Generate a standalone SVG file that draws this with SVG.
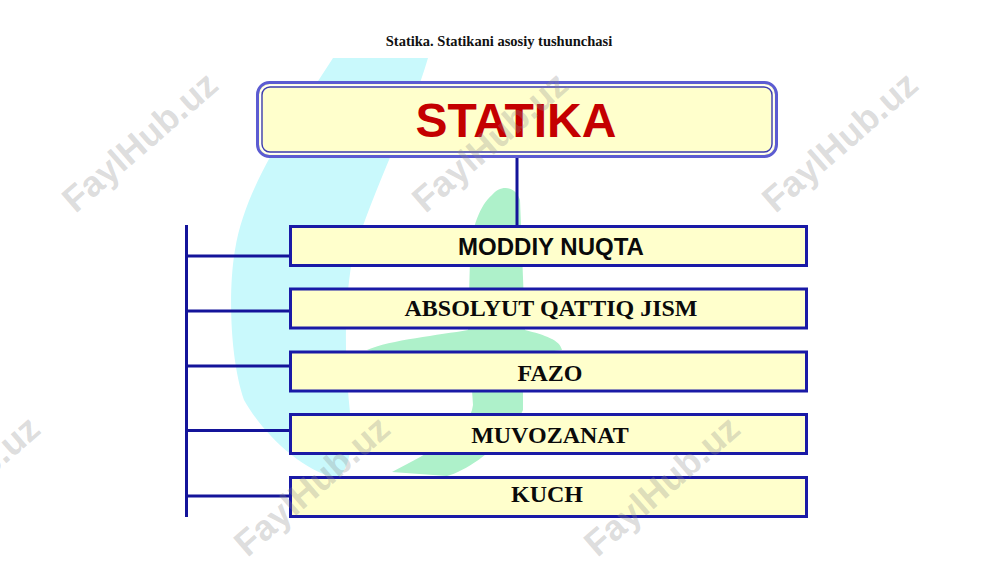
<svg xmlns="http://www.w3.org/2000/svg" width="1000" height="562" viewBox="0 0 1000 562">
<style>
.bg{fill:#ffffff}
.cyan{fill:#c9f9fc}
.green{fill:#aef1ca}
.box{fill:#ffffcc;stroke:#1a1aa6;stroke-width:3}
.lbl{font-family:"Liberation Serif","Times New Roman",serif;font-weight:bold;font-size:24px;fill:#0a0a0a;text-anchor:middle}
.lbls{font-family:"Liberation Sans",Arial,sans-serif;font-weight:bold;font-size:24px;fill:#0a0a0a;text-anchor:middle}
.conn{stroke:#14149a;stroke-width:3;fill:none}
.wm{font-family:"Liberation Sans",Arial,sans-serif;font-weight:bold;font-size:36px;fill:#8c8c8c;fill-opacity:0.3;text-anchor:middle}
</style>
<rect class="bg" x="0" y="0" width="1000" height="562"/>
<g id="background-logo">
<path class="cyan" d="M333,58 L428,58 C410,120 372,190 352,260 C342,320 346,380 352,430 C351,458 346,474 336,478 C300,470 262,432 244,400 C230,360 228,290 235,250 C246,180 300,110 333,58 Z"/>
<path class="green" d="M492,195 C500,185 515,185 520,200 L525,330 C545,335 560,340 562,350 C545,352 530,355 523,360 L523,410 C510,440 470,470 447,476 L392,472 C430,452 470,432 473,405 L470,360 C440,356 395,355 367,350 C390,340 440,335 468,330 L470,260 C470,230 480,205 492,195 Z"/>
</g>
<text x="499" y="46" font-family="'Liberation Serif','Times New Roman',serif" font-weight="bold" font-size="14.5" text-anchor="middle" fill="#111111">Statika. Statikani asosiy tushunchasi</text>
<g id="connectors">
<line class="conn" x1="517" y1="156" x2="517" y2="226"/>
<line class="conn" x1="186.5" y1="225" x2="186.5" y2="517"/>
<line class="conn" x1="186" y1="256" x2="290" y2="256"/>
<line class="conn" x1="186" y1="311" x2="290" y2="311"/>
<line class="conn" x1="186" y1="366" x2="290" y2="366"/>
<line class="conn" x1="186" y1="430.5" x2="290" y2="430.5"/>
<line class="conn" x1="186" y1="496" x2="290" y2="496"/>
</g>
<g id="node-statika">
<rect x="257.5" y="82.5" width="519" height="74" rx="12" fill="#ffffcc" stroke="#5c5cd2" stroke-width="3"/>
<rect x="260.5" y="85.5" width="513" height="68" rx="9.5" fill="none" stroke="#ffffff" stroke-width="1.4"/>
<rect x="262" y="87" width="510" height="65" rx="8" fill="none" stroke="#3c3cb2" stroke-width="1.4"/>
<text x="516" y="137" font-family="'Liberation Sans',Arial,sans-serif" font-weight="bold" font-size="48" text-anchor="middle" fill="#c40000">STATIKA</text>
</g>
<g id="node-moddiy-nuqta">
<rect class="box" x="290.5" y="226.5" width="516" height="39"/>
<text class="lbls" x="551" y="255">MODDIY NUQTA</text>
</g>
<g id="node-absolyut-qattiq-jism">
<rect class="box" x="290.5" y="289" width="516" height="39"/>
<text class="lbl" x="551" y="315.5">ABSOLYUT QATTIQ JISM</text>
</g>
<g id="node-fazo">
<rect class="box" x="290.5" y="352" width="516" height="39"/>
<text class="lbl" x="550" y="381">FAZO</text>
</g>
<g id="node-muvozanat">
<rect class="box" x="290.5" y="414.5" width="516" height="39"/>
<text class="lbl" x="550" y="442.5">MUVOZANAT</text>
</g>
<g id="node-kuch">
<rect class="box" x="290.5" y="477.5" width="516" height="39"/>
<text class="lbl" x="547" y="501.5">KUCH</text>
</g>
<g id="watermarks">
<text class="wm" transform="translate(140,142) rotate(-41)" y="12">FaylHub.uz</text>
<text class="wm" transform="translate(490,142) rotate(-41)" y="12">FaylHub.uz</text>
<text class="wm" transform="translate(840,142) rotate(-41)" y="12">FaylHub.uz</text>
<text class="wm" transform="translate(-38,486) rotate(-41)" y="12">FaylHub.uz</text>
<text class="wm" transform="translate(312,486) rotate(-41)" y="12">FaylHub.uz</text>
<text class="wm" transform="translate(662,486) rotate(-41)" y="12">FaylHub.uz</text>
</g>
</svg>
